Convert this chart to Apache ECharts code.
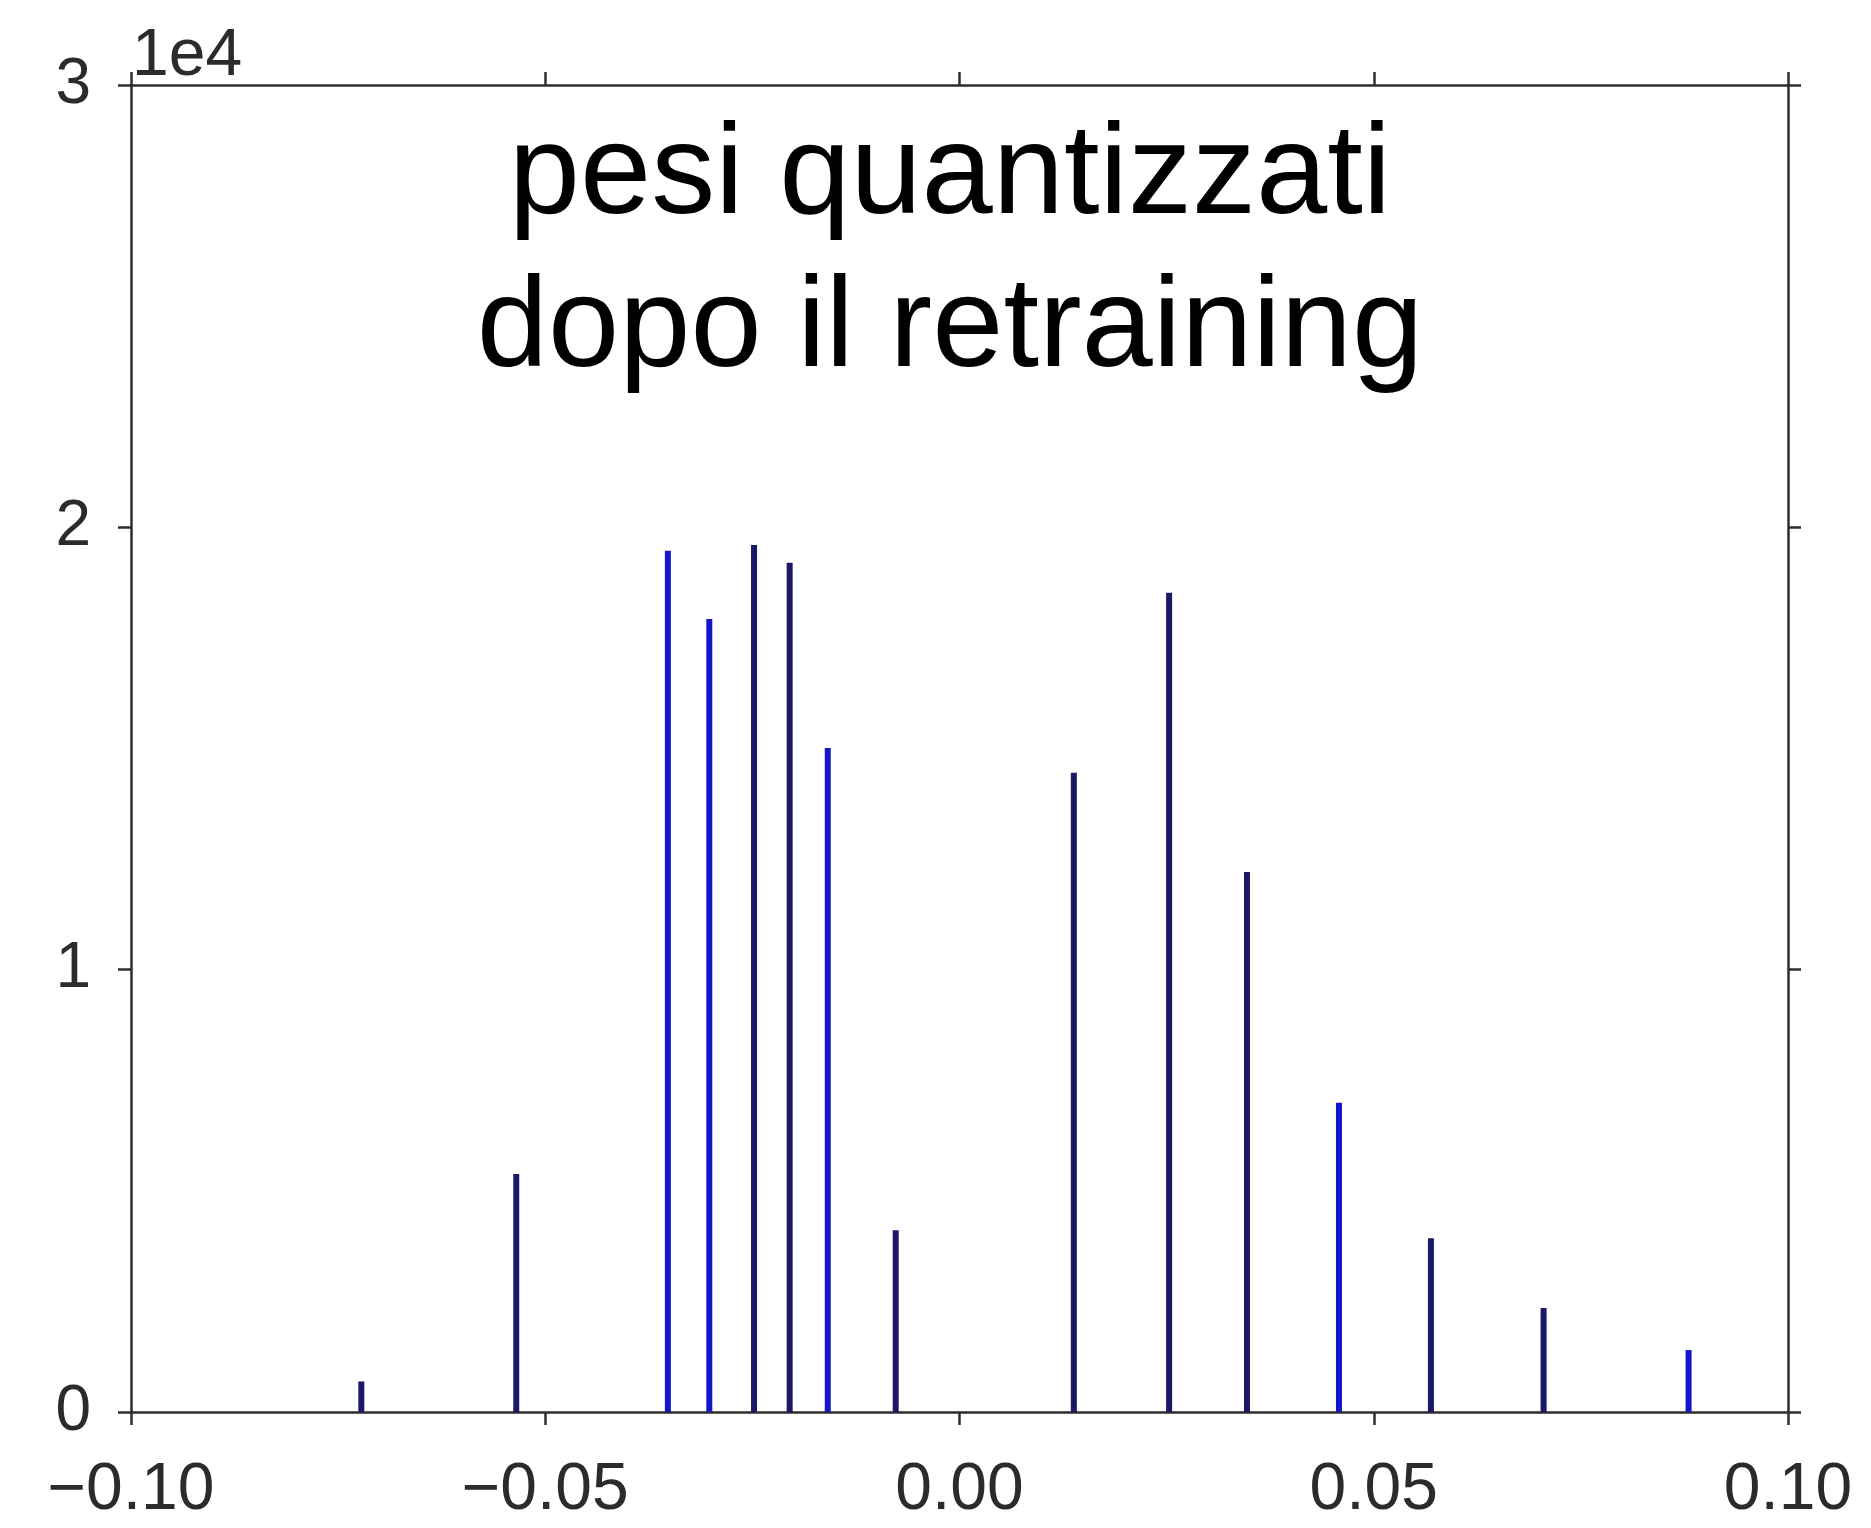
<!DOCTYPE html>
<html>
<head>
<meta charset="utf-8">
<style>
  html, body { margin: 0; padding: 0; background: #ffffff; }
  #chart { width: 1871px; height: 1528px; }
</style>
<script src="https://cdn.jsdelivr.net/npm/echarts@6/dist/echarts.min.js"></script>
</head>
<body>
<div id="chart"></div>
<script>
// ---- data ----
const weightValues = [-0.0722, -0.0535, -0.0352, -0.0302, -0.0248, -0.0205, -0.0159, -0.0077,
                      0.0138, 0.0253, 0.0347, 0.0458, 0.0569, 0.0705, 0.0880];
const counts = [690, 5380, 19470, 17930, 19600, 19200, 15010, 4110,
                14450, 18520, 12210, 6990, 3930, 2350, 1400];
const titleLines = ['pesi quantizzati', 'dopo il retraining'];
const yScaleLabel = '1e4';
const xTicks = { min: -0.1, max: 0.1, step: 0.05 };
const yTicks = { min: 0, max: 30000, step: 10000 };

// ---- styles ----
const BLUE = '#1414c8';
const NAVY = '#1c1868';
const barShade = [NAVY, NAVY, BLUE, BLUE, NAVY, NAVY, BLUE, NAVY,
                  NAVY, NAVY, NAVY, BLUE, NAVY, NAVY, BLUE];
const AXIS = '#2e2e2e';
const FONT = 'Liberation Sans, Arial, Helvetica, sans-serif';

const seriesData = weightValues.map((x, i) => ({
  value: [x, counts[i]],
  itemStyle: { color: barShade[i] }
}));

function fmtX(v) {
  if (Math.abs(v) < 1e-9) return '0.00';
  const s = v.toFixed(2);
  return s.replace('-', '\u2212');
}

const chart = echarts.init(document.getElementById('chart'), null, { renderer: 'canvas' });
function axisLine() { return { show: true, onZero: false, lineStyle: { color: AXIS, width: 2.5 } }; }
function tick() { return { show: true, inside: false, length: 13, lineStyle: { color: AXIS, width: 2.5 } }; }

chart.setOption({
  backgroundColor: '#ffffff',
  animation: false,
  grid: { left: 131, right: 83, top: 85, bottom: 116, containLabel: false },
  xAxis: [
    {
      type: 'value', position: 'bottom',
      min: xTicks.min, max: xTicks.max, interval: xTicks.step,
      axisLine: axisLine(), axisTick: tick(), splitLine: { show: false },
      axisLabel: { show: true, margin: 46, color: '#2b2b2b', fontSize: 66, fontFamily: FONT, formatter: fmtX }
    },
    {
      type: 'value', position: 'top',
      min: xTicks.min, max: xTicks.max, interval: xTicks.step,
      axisLine: axisLine(), axisTick: tick(), splitLine: { show: false },
      axisLabel: { show: false }
    }
  ],
  yAxis: [
    {
      type: 'value', position: 'left',
      min: yTicks.min, max: yTicks.max, interval: yTicks.step,
      axisLine: axisLine(), axisTick: tick(), splitLine: { show: false },
      axisLabel: { show: true, margin: 40, color: '#2b2b2b', fontSize: 64, fontFamily: FONT,
                   padding: [0, 0, 16, 0],
                   formatter: v => String(Math.round(v / 10000)) }
    },
    {
      type: 'value', position: 'right',
      min: yTicks.min, max: yTicks.max, interval: yTicks.step,
      axisLine: axisLine(), axisTick: tick(), splitLine: { show: false },
      axisLabel: { show: false }
    }
  ],
  series: [{
    type: 'bar',
    xAxisIndex: 0, yAxisIndex: 0,
    barWidth: 6,
    data: seriesData
  }],
  graphic: [
    {
      type: 'text', left: 132, top: 24, z: 10,
      style: { text: yScaleLabel, fill: '#2b2b2b', font: '66px ' + FONT }
    },
    {
      type: 'text', x: 950, y: 178, z: 10,
      style: { text: titleLines[0], fill: '#000000', font: '128px ' + FONT, align: 'center', verticalAlign: 'middle' }
    },
    {
      type: 'text', x: 950, y: 331, z: 10,
      style: { text: titleLines[1], fill: '#000000', font: '128px ' + FONT, align: 'center', verticalAlign: 'middle' }
    }
  ]
});
</script>
</body>
</html>
